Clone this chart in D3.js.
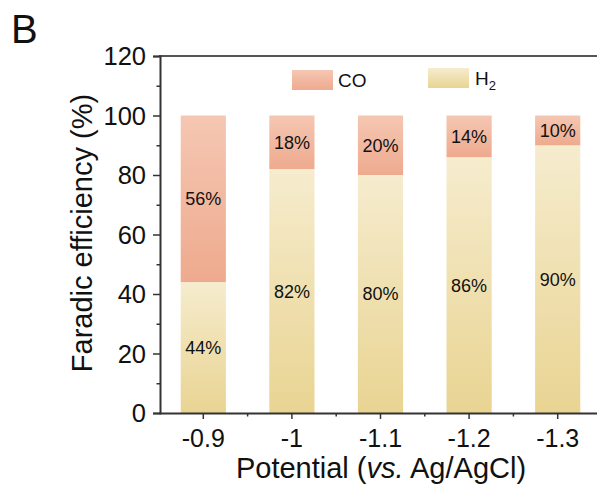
<!DOCTYPE html>
<html>
<head>
<meta charset="utf-8">
<script src="https://cdn.jsdelivr.net/npm/d3@7"></script>
<style>
  body { margin: 0; background: #fff; }
  svg { font-family: Arial, "Liberation Sans", sans-serif; }
</style>
</head>
<body>
<svg id="chart" width="597" height="495"></svg>
<script>
// Faradaic efficiency of CO and H2 at each applied potential
const potentials = ["-0.9", "-1", "-1.1", "-1.2", "-1.3"];
const h2Values = [44, 82, 80, 86, 90];
const coValues = [56, 18, 20, 14, 10];
const yTicks = [0, 20, 40, 60, 80, 100, 120];
const yMinorTicks = [10, 30, 50, 70, 90, 110];

const FONT = "Arial, 'Liberation Sans', sans-serif";
const svg = d3.select("#chart");

const x = d3.scaleBand()
  .domain(potentials)
  .range([159, 602])
  .paddingInner(0.49)
  .paddingOuter(0.245);

const y = d3.scaleLinear().domain([0, 120]).range([413, 56]);

// Vertical gradients for the two species
const defs = svg.append("defs");
function grad(id, top, bottom) {
  const g = defs.append("linearGradient").attr("id", id)
    .attr("x1", 0).attr("y1", 0).attr("x2", 0).attr("y2", 1);
  g.append("stop").attr("offset", "0%").attr("stop-color", top);
  g.append("stop").attr("offset", "100%").attr("stop-color", bottom);
}
grad("gCO", "#f5c7b3", "#eeaa8e");
grad("gH2", "#f6ecce", "#e9d492");

const rows = potentials.map((p, i) => ({ p, h2: h2Values[i], co: coValues[i] }));

// H2 segments (bottom)
svg.append("g").selectAll("rect").data(rows).join("rect")
  .attr("x", d => x(d.p))
  .attr("width", x.bandwidth())
  .attr("y", d => y(d.h2))
  .attr("height", d => y(0) - y(d.h2))
  .attr("fill", "url(#gH2)");

// CO segments (stacked on top)
svg.append("g").selectAll("rect").data(rows).join("rect")
  .attr("x", d => x(d.p))
  .attr("width", x.bandwidth())
  .attr("y", d => y(d.h2 + d.co))
  .attr("height", d => y(d.h2) - y(d.h2 + d.co))
  .attr("fill", "url(#gCO)");

// Value labels centred in each segment
const lbl = svg.append("g").attr("font-size", 18).attr("fill", "#111").attr("text-anchor", "middle");
lbl.selectAll("text.h2").data(rows).join("text").attr("class", "h2")
  .attr("x", d => x(d.p) + x.bandwidth() / 2)
  .attr("y", d => y(d.h2 / 2))
  .attr("dy", "0.36em")
  .text(d => d.h2 + "%");
lbl.selectAll("text.co").data(rows).join("text").attr("class", "co")
  .attr("x", d => x(d.p) + x.bandwidth() / 2)
  .attr("y", d => y(d.h2 + d.co / 2))
  .attr("dy", "0.36em")
  .text(d => d.co + "%");

// Top frame line
svg.append("line")
  .attr("x1", 159).attr("x2", 597)
  .attr("y1", y(120)).attr("y2", y(120))
  .attr("stroke", "#555").attr("stroke-width", 2);

// Y axis with minor ticks
const yAxis = svg.append("g").attr("transform", "translate(160,0)")
  .call(d3.axisLeft(y).tickValues(yTicks).tickSize(7).tickPadding(7));
svg.append("g").attr("transform", "translate(160,0)")
  .call(d3.axisLeft(y).tickValues(yMinorTicks).tickSize(3.5).tickFormat(""))
  .call(g => g.select(".domain").remove());
yAxis.selectAll("text").attr("font-size", 25.5).attr("fill", "#111").attr("font-family", FONT)
  .attr("dy", "0.35em");

// X axis with minor ticks between categories
const xAxis = svg.append("g").attr("transform", `translate(0,${y(0)})`)
  .call(d3.axisBottom(x).tickSize(6).tickSizeOuter(0));
xAxis.selectAll("text").attr("font-size", 25).attr("fill", "#111").attr("font-family", FONT)
  .attr("y", 34).attr("dy", 0);
const mids = potentials.slice(1).map((p, i) =>
  (x(potentials[i]) + x(p)) / 2 + x.bandwidth() / 2);
svg.append("g").selectAll("line").data(mids).join("line")
  .attr("x1", d => d).attr("x2", d => d)
  .attr("y1", y(0)).attr("y2", y(0) + 3.5)
  .attr("stroke", "#333").attr("stroke-width", 1.5);

svg.selectAll(".domain").attr("stroke", "#333").attr("stroke-width", 2);
svg.selectAll(".tick line").attr("stroke", "#333").attr("stroke-width", 1.5);

// Axis titles
svg.append("text")
  .attr("x", 381).attr("y", 478)
  .attr("text-anchor", "middle").attr("font-size", 29).attr("fill", "#111")
  .html('Potential (<tspan font-style="italic">vs.</tspan> Ag/AgCl)');
svg.append("text")
  .attr("transform", "translate(92,233) rotate(-90)")
  .attr("text-anchor", "middle").attr("font-size", 29).attr("fill", "#111")
  .text("Faradic efficiency (%)");

// Panel letter
svg.append("text").attr("x", 11).attr("y", 43).attr("font-size", 40).attr("fill", "#111").text("B");

// Legend
const legend = svg.append("g").attr("font-size", 19).attr("fill", "#111");
legend.append("rect").attr("x", 292).attr("y", 70).attr("width", 41).attr("height", 20).attr("fill", "url(#gCO)");
legend.append("text").attr("x", 338).attr("y", 87).text("CO");
legend.append("rect").attr("x", 428).attr("y", 68).attr("width", 41).attr("height", 20).attr("fill", "url(#gH2)");
legend.append("text").attr("x", 475).attr("y", 85)
  .html('H<tspan font-size="13" dy="5">2</tspan>');
</script>
</body>
</html>
